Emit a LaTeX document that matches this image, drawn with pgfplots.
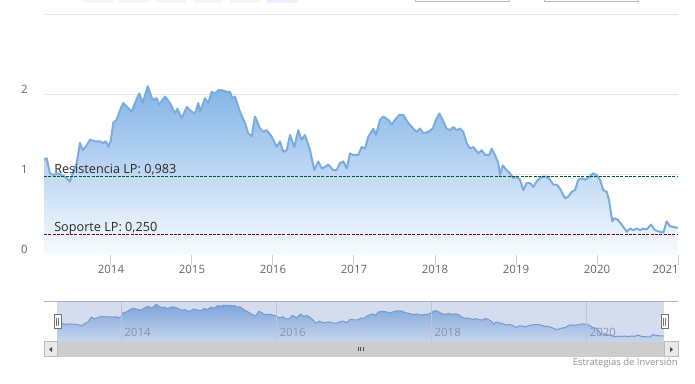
\documentclass[border=0pt]{standalone}
\usepackage{pgfplots}
\pgfplotsset{compat=1.18}
\usepackage{pgfplotstable}
\usepackage{fontspec}
\setmainfont{Open Sans}
\definecolor{gridc}{RGB}{230,230,230}
\definecolor{axisc}{RGB}{192,208,224}
\definecolor{tickc}{RGB}{102,102,102}
\definecolor{serline}{RGB}{122,172,222}
\definecolor{filltop}{RGB}{130,180,232}
\definecolor{fillbot}{RGB}{249,251,254}
\definecolor{resc}{RGB}{0,90,40}
\definecolor{supc}{RGB}{120,0,30}
\definecolor{navbg}{RGB}{212,220,237}
\definecolor{navtop}{RGB}{125,166,218}
\definecolor{navbot}{RGB}{200,214,237}
\definecolor{navline}{RGB}{115,155,208}
\definecolor{navgrid}{RGB}{188,196,214}
\definecolor{navlab}{RGB}{138,148,172}
\definecolor{sbar}{RGB}{205,205,205}
\definecolor{sbtn}{RGB}{233,233,233}
\definecolor{sbord}{RGB}{187,187,187}
\definecolor{outl}{RGB}{178,177,182}
\definecolor{credc}{RGB}{144,144,144}
\definecolor{labc}{RGB}{40,40,40}

\pgfplotstableread{
x y
2013.173 1.19
2013.206 1.21
2013.247 1.02
2013.288 1.00
2013.349 1.02
2013.432 0.98
2013.494 0.92
2013.535 1.04
2013.577 1.15
2013.617 1.40
2013.651 1.31
2013.700 1.37
2013.741 1.44
2013.802 1.42
2013.864 1.42
2013.905 1.40
2013.938 1.42
2013.967 1.35
2013.996 1.42
2014.028 1.65
2014.070 1.69
2014.111 1.81
2014.152 1.90
2014.201 1.85
2014.256 1.79
2014.296 1.90
2014.349 2.02
2014.391 1.90
2014.453 2.11
2014.515 1.94
2014.564 1.96
2014.593 1.88
2014.667 1.98
2014.728 1.90
2014.790 1.77
2014.819 1.83
2014.873 1.71
2014.935 1.85
2014.996 1.79
2015.037 1.77
2015.078 1.90
2015.099 1.79
2015.160 1.96
2015.201 1.90
2015.243 2.04
2015.284 2.02
2015.325 2.06
2015.367 2.06
2015.428 2.04
2015.469 2.04
2015.498 1.96
2015.531 1.98
2015.593 1.79
2015.654 1.65
2015.695 1.52
2015.737 1.48
2015.778 1.73
2015.840 1.58
2015.880 1.54
2015.922 1.56
2015.984 1.48
2016.046 1.35
2016.086 1.42
2016.127 1.29
2016.169 1.31
2016.210 1.50
2016.263 1.35
2016.312 1.56
2016.354 1.44
2016.395 1.50
2016.457 1.31
2016.510 1.06
2016.559 1.17
2016.601 1.08
2016.642 1.10
2016.683 1.13
2016.744 1.06
2016.786 1.06
2016.827 1.15
2016.868 1.17
2016.910 1.08
2016.951 1.27
2016.991 1.25
2017.053 1.25
2017.095 1.35
2017.136 1.33
2017.177 1.48
2017.238 1.58
2017.272 1.50
2017.321 1.69
2017.362 1.73
2017.423 1.69
2017.465 1.63
2017.506 1.69
2017.559 1.75
2017.609 1.75
2017.670 1.65
2017.732 1.58
2017.774 1.54
2017.815 1.58
2017.856 1.52
2017.917 1.54
2017.972 1.58
2018.012 1.69
2018.053 1.77
2018.095 1.69
2018.144 1.58
2018.185 1.56
2018.226 1.60
2018.268 1.56
2018.309 1.58
2018.349 1.54
2018.391 1.40
2018.432 1.33
2018.473 1.35
2018.535 1.27
2018.577 1.31
2018.617 1.25
2018.670 1.25
2018.700 1.33
2018.741 1.25
2018.781 1.15
2018.802 1.00
2018.836 1.12
2018.885 1.06
2018.926 1.02
2018.967 0.96
2019.009 0.98
2019.049 0.94
2019.090 0.81
2019.132 0.90
2019.173 0.90
2019.214 0.85
2019.256 0.92
2019.296 0.96
2019.337 0.98
2019.379 0.98
2019.420 0.94
2019.460 0.88
2019.502 0.88
2019.543 0.83
2019.584 0.75
2019.605 0.71
2019.646 0.73
2019.688 0.79
2019.728 0.81
2019.769 0.94
2019.811 0.96
2019.852 0.94
2019.914 0.98
2019.947 1.02
2019.996 1.00
2020.037 0.94
2020.078 0.81
2020.120 0.79
2020.148 0.69
2020.189 0.42
2020.214 0.46
2020.256 0.44
2020.305 0.38
2020.367 0.29
2020.407 0.33
2020.448 0.31
2020.490 0.33
2020.531 0.31
2020.572 0.33
2020.614 0.32
2020.667 0.38
2020.716 0.31
2020.778 0.29
2020.819 0.28
2020.860 0.42
2020.901 0.36
2020.942 0.35
2020.996 0.34
}\pricedata

\begin{document}
\begin{tikzpicture}[x=0.75pt,y=0.75pt]
\useasboundingbox (0,0) rectangle (695,384);
% top range selector (cut off by the frame)
\begin{scope}
\clip (0,0) rectangle (695,384);
\foreach \a in {83,119,156,193,230}{
  \fill[black!4, rounded corners=1.5pt] (\a,381) rectangle ++(30,14);
}
\fill[blue!7, rounded corners=1.5pt] (267,381) rectangle ++(31,14);
\draw[sbord, fill=white, line width=0.75pt] (415,382) rectangle (509,394);
\draw[sbord, fill=white, line width=0.75pt] (544,382) rectangle (638,394);
\end{scope}

% main chart
\begin{axis}[
  at={(33pt,96.75pt)}, anchor=south west, scale only axis,
  width=475.5pt, height=180pt,
  xmin=2013.173, xmax=2021, ymin=0, ymax=3,
  axis x line*=bottom, axis y line*=left,
  y axis line style={draw=none},
  x axis line style={draw=axisc, line width=0.75pt, -},
  xtick={2014,2015,2016,2017,2018,2019,2020},
  xticklabels={2014,2015,2016,2017,2018,2019,2020},
  extra x ticks={2021}, extra x tick labels={2021},
  extra x tick style={xticklabel style={anchor=north east, xshift=0.75pt}},
  ytick={0,1,2,3}, yticklabels={0,1,2,{}},
  ymajorgrids, major grid style={draw=gridc, line width=0.75pt},
  xtick style={draw=axisc, line width=0.75pt, yshift=-7.5pt},
  major tick length=7.5pt,
  ytick style={draw=none},
  tick label style={font=\fontsize{8.6}{10}\selectfont, text=tickc},
  xticklabel style={anchor=north, inner sep=0pt, yshift=-7.5pt},
  yticklabel style={anchor=south east, inner sep=0pt, xshift=-12pt, yshift=1pt},
  axis on top=false,
]
\addplot[draw=none, top color=filltop, bottom color=fillbot] table[x=x,y=y] {\pricedata} \closedcycle;
\addplot[serline, line width=1.5pt, line join=round, no markers] table[x=x,y=y] {\pricedata};
\addplot[resc, line width=0.75pt, dash pattern=on 2.25pt off 1pt, no markers] coordinates {(2013.173,0.983) (2021,0.983)};
\addplot[supc, line width=0.75pt, dash pattern=on 2.25pt off 1pt, no markers] coordinates {(2013.173,0.25) (2021,0.25)};
\node[anchor=base west, inner sep=0pt, font=\fontsize{9.5}{11}\selectfont, text=labc, xshift=7.5pt, yshift=2.25pt] at (axis cs:2013.173,0.983) {Resistencia LP: 0,983};
\node[anchor=base west, inner sep=0pt, font=\fontsize{9.5}{11}\selectfont, text=labc, xshift=7.5pt, yshift=2.25pt] at (axis cs:2013.173,0.25) {Soporte LP: 0,250};
\end{axis}

% navigator
\begin{axis}[
  at={(42.75pt,31.5pt)}, anchor=south west, scale only axis,
  width=455.25pt, height=30pt,
  xmin=2013.173, xmax=2021, ymin=0, ymax=2.25,
  axis line style={draw=none},
  axis background/.style={fill=navbg},
  axis on top,
  xtick={2014,2016,2018,2020}, xticklabels={2014,2016,2018,2020},
  ytick=\empty,
  xmajorgrids, major grid style={draw=navgrid, line width=0.75pt},
  tick style={draw=none},
  xticklabel style={anchor=south west, inner sep=0pt, xshift=2.25pt, yshift=3.5pt, text=navlab, font=\fontsize{8.6}{10}\selectfont},
]
\addplot[draw=none, top color=navtop, bottom color=navbot] table[x=x,y=y] {\pricedata} \closedcycle;
\addplot[navline, line width=0.75pt, no markers] table[x=x,y=y] {\pricedata};
\end{axis}

% navigator outline and scrollbar
\draw[outl, line width=0.75pt] (44,82) -- (678,82);
\fill[sbar] (44,27) rectangle (678,42);
\draw[sbord, fill=sbtn, line width=0.75pt] (44,27) rectangle (57,42);
\draw[sbord, fill=sbtn, line width=0.75pt] (664,27) rectangle (678,42);
\fill[black!70] (49,34.5) -- (52,37) -- (52,32) -- cycle;
\fill[black!70] (673,34.5) -- (670,37) -- (670,32) -- cycle;
\draw[black!70, line width=0.6pt] (358,32.5) -- (358,37) (360.5,32.5) -- (360.5,37) (363,32.5) -- (363,37);
% handles
\draw[black!55, fill=white, line width=0.75pt] (54,55) rectangle (61,69);
\draw[black!55, line width=0.6pt] (56.5,58) -- (56.5,66) (58.5,58) -- (58.5,66);
\draw[black!55, fill=white, line width=0.75pt] (661,55) rectangle (668,69);
\draw[black!55, line width=0.6pt] (663.5,58) -- (663.5,66) (665.5,58) -- (665.5,66);
% credits
\node[anchor=base east, inner sep=0pt, font=\fontsize{7.1}{8.5}\selectfont, text=credc] at (678,18) {Estrategias de Inversión};
\end{tikzpicture}
\end{document}
